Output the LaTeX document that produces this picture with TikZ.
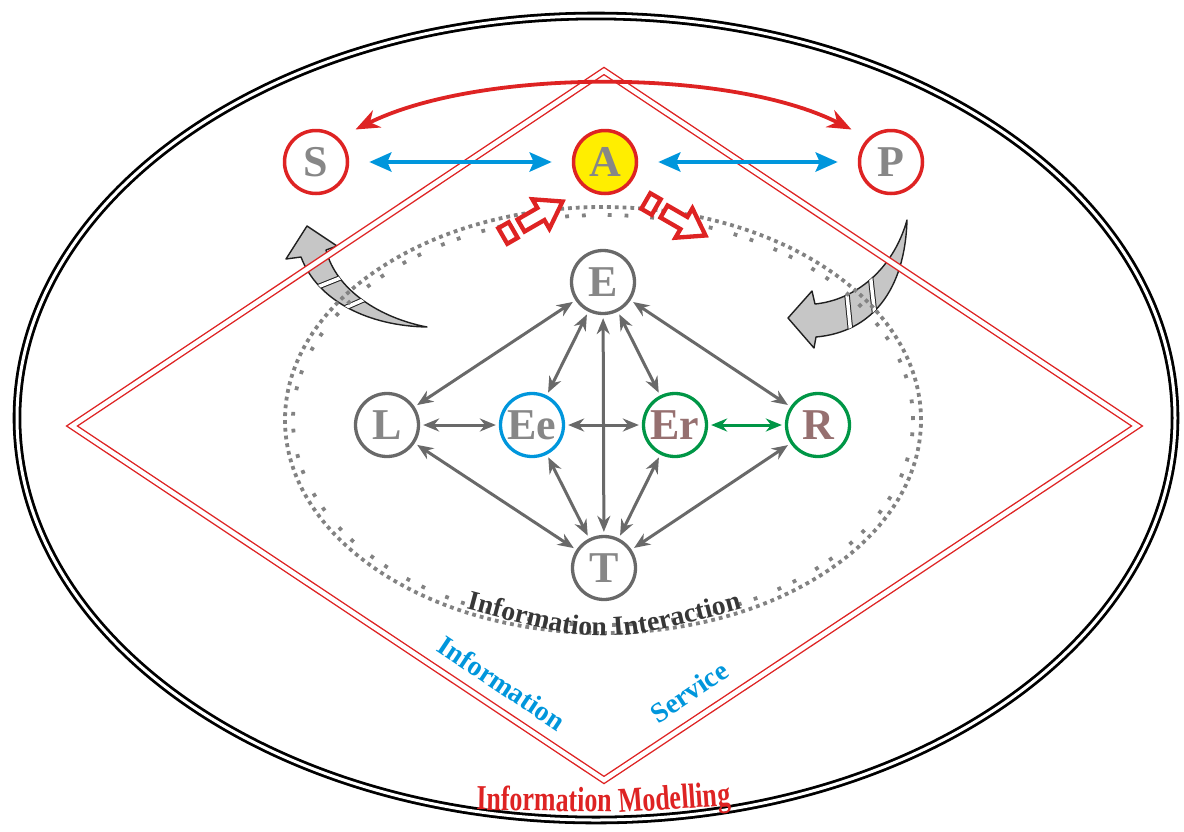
\documentclass[tikz,border=0pt]{standalone}
\usepackage{fontspec}
\setmainfont{Liberation Serif}
\newfontfamily\condfont[FakeStretch=0.74]{Liberation Serif}
\usetikzlibrary{arrows.meta,decorations.text}
\definecolor{myred}{RGB}{222,35,35}
\definecolor{myblue}{RGB}{0,150,220}
\definecolor{mygreen}{RGB}{0,150,70}
\definecolor{mygray}{RGB}{105,105,105}
\definecolor{lettergray}{RGB}{135,135,135}
\definecolor{redgray}{RGB}{150,112,112}
\definecolor{myyellow}{RGB}{255,238,0}
\definecolor{iigray}{RGB}{55,55,55}
\definecolor{dotgray}{RGB}{130,130,130}
\tikzset{
  topnode/.style={circle, draw=myred, line width=3.5pt, minimum size=63pt, inner sep=0pt,
    font=\fontsize{44}{44}\selectfont\bfseries, text=lettergray},
  innode/.style={circle, draw=mygray, line width=3.3pt, minimum size=63pt, inner sep=0pt,
    font=\fontsize{44}{44}\selectfont\bfseries, text=lettergray},
  garrow/.style={draw=mygray, line width=3pt,
    {Stealth[length=16pt,width=13pt]}-{Stealth[length=16pt,width=13pt]},
    shorten <=3pt, shorten >=3pt},
  greenarrow/.style={draw=mygreen, line width=3pt,
    {Stealth[length=16pt,width=13pt]}-{Stealth[length=16pt,width=13pt]},
    shorten <=3pt, shorten >=3pt},
  bluearrow/.style={draw=myblue, line width=4.5pt,
    {Stealth[length=22pt,width=19pt,inset=4pt]}-{Stealth[length=22pt,width=19pt,inset=4pt]},
    shorten <=20pt, shorten >=20pt},
  hollow/.style={draw=myred, line width=4.3pt, fill=white, line join=miter},
  bigcurve/.style={fill=gray!45, draw=gray!25!black, line width=1.4pt, line join=round},
  gapline/.style={draw=gray!25!black, line width=1pt, double=white, double distance=3.5pt}
}
\begin{document}
\begin{tikzpicture}[x=1pt,y=-1pt]
\useasboundingbox (0,0) rectangle (1184,831);
% outer ellipse
\draw[black, line width=2.8pt, double=white, double distance=3pt] (596,418) ellipse [x radius=579pt, y radius=402pt];

% left curved gray arrow
\path[bigcurve] (427,327) .. controls (370,326) and (318,302) .. (301,257) -- (286,259) -- (307,226) -- (337,246) -- (326,250) .. controls (336,290) and (380,318) .. (427,327) -- cycle;
\begin{scope}
\clip (427,327) .. controls (370,326) and (318,302) .. (301,257) -- (326,250) .. controls (336,290) and (380,318) .. (427,327) -- cycle;
\draw[gapline] (295,296) -- (350,274);
\draw[gapline] (322,318) -- (372,296);
\end{scope}
% right curved gray arrow
\path[bigcurve] (907,220) .. controls (905,290) and (872,332) .. (816,337) -- (814,348) -- (788,318) -- (812,291) -- (815,304) .. controls (855,300) and (893,270) .. (907,220) -- cycle;
\begin{scope}
\clip (907,220) .. controls (905,290) and (872,332) .. (816,337) -- (815,304) .. controls (855,300) and (893,270) .. (907,220) -- cycle;
\draw[gapline] (846,285) -- (852,345);
\draw[gapline] (870,272) -- (877,335);
\end{scope}

% red double diamond
\draw[myred, line width=1.4pt, double=white, double distance=4.5pt] (604,71) -- (1137,426) -- (604,780) -- (72,426) -- cycle;

% dotted ellipse
\draw[dotgray, line width=3.8pt, dash pattern=on 3.8pt off 4pt] (603,420) ellipse [x radius=318pt, y radius=213pt];
\draw[dotgray, line width=3.8pt, dash pattern=on 3.8pt off 13pt on 3.8pt off 22pt] (603,420) ellipse [x radius=310pt, y radius=205pt];

% top nodes
\node[topnode] (S) at (316,162) {S};
\node[topnode, fill=myyellow] (A) at (605,162) {A};
\node[topnode] (P) at (891,162) {P};
\draw[bluearrow] (S) -- (A);
\draw[bluearrow] (A) -- (P);
\draw[myred, line width=3.8pt, {Stealth[length=24pt,width=19pt]}-{Stealth[length=24pt,width=19pt]}]
  ([shift={(16,-9)}]S.45) .. controls (480,68) and (730,68) .. ([shift={(-16,-9)}]P.135);

% small hollow red arrows
\begin{scope}[shift={(508,233)}, rotate=30]
\draw[hollow] (-6,-9) rectangle (6,9);
\draw[hollow] (15,-7) -- (38,-7) -- (38,-17) -- (63,0) -- (38,17) -- (38,7) -- (15,7) -- cycle;
\end{scope}
\begin{scope}[shift={(651,204)}, rotate=-30]
\draw[hollow] (-6,-9) rectangle (6,9);
\draw[hollow] (15,-7) -- (38,-7) -- (38,-17) -- (63,0) -- (38,17) -- (38,7) -- (15,7) -- cycle;
\end{scope}

% inner nodes
\node[innode] (E) at (603,282) {E};
\node[innode] (L) at (387,425) {L};
\node[innode, draw=myblue] (Ee) at (532,425) {Ee};
\node[innode, draw=mygreen, text=redgray] (Er) at (675,425) {Er};
\node[innode, draw=mygreen, text=redgray] (R) at (818,425) {R};
\node[innode] (T) at (604,568) {T};

\draw[garrow] (E) -- (L);
\draw[garrow] (E) -- (Ee);
\draw[garrow] (E) -- (T);
\draw[garrow] (E) -- (Er);
\draw[garrow] (E) -- (R);
\draw[garrow] (L) -- (Ee);
\draw[garrow] (Ee) -- (Er);
\draw[greenarrow] (Er) -- (R);
\draw[garrow] (T) -- (L);
\draw[garrow] (T) -- (Ee);
\draw[garrow] (T) -- (Er);
\draw[garrow] (T) -- (R);

% texts
\path[decorate, decoration={text along path, text align=center,
  text={|\fontsize{27.5}{27.5}\selectfont\bfseries\color{iigray}|Information Interaction}}]
  (455,606) .. controls (604,646) .. (753,606);
\node[text=myred, font=\condfont\fontsize{35}{35}\selectfont\bfseries, anchor=base, inner sep=0pt, rotate=-1] (im1) at (544,811) {Information};
\node[text=myred, font=\condfont\fontsize{35}{35}\selectfont\bfseries, anchor=base, inner sep=0pt, rotate=4] (im2) at (675,809) {Modelling};
\node[text=myblue, font=\fontsize{28}{28}\selectfont\bfseries, rotate=-33.7] (info) at (502,683) {Information};
\node[text=myblue, font=\fontsize{28}{28}\selectfont\bfseries, rotate=33.7] (serv) at (689,692) {Service};
\end{tikzpicture}
\end{document}
